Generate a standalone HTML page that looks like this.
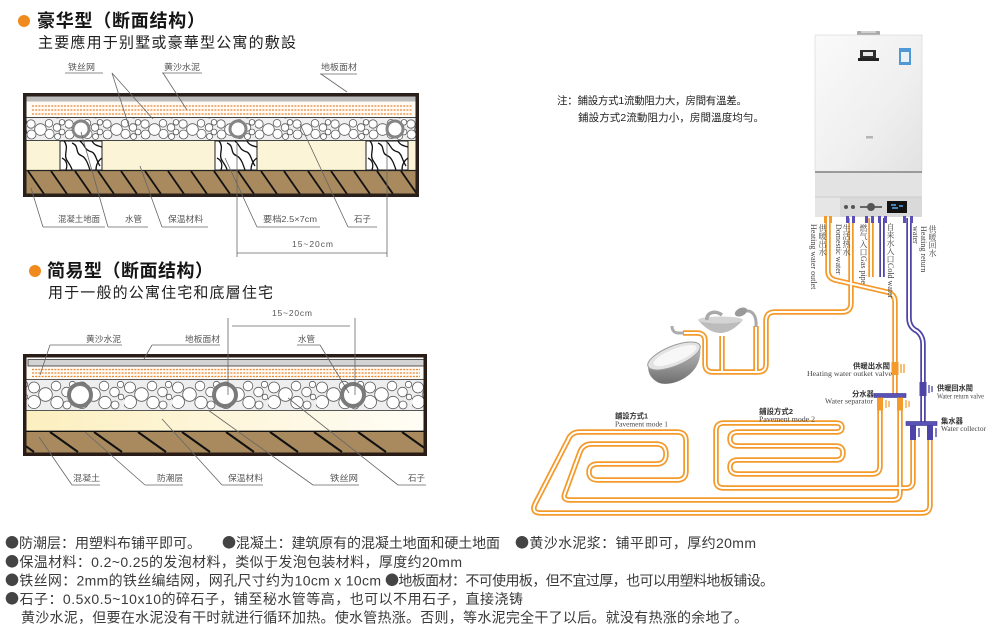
<!DOCTYPE html>
<html><head><meta charset="utf-8">
<style>
html,body{margin:0;padding:0;background:#fff;}
#wrap{position:relative;width:1000px;height:640px;overflow:hidden;background:#fff;}
svg{position:absolute;left:0;top:0;}
svg text{font-family:"Liberation Sans","Noto Sans CJK SC",sans-serif;dominant-baseline:central;}
.h{font-size:18px;font-weight:bold;fill:#151515;}
.sub{font-size:15px;fill:#1e1e1e;}
.lb{font-size:8.5px;fill:#555;}
.bt{font-size:14px;fill:#3a3a3a;}
.dot{font-family:"Noto Sans CJK SC",sans-serif;fill:#444;}
.nt{font-size:10.5px;fill:#1e1e1e;}
.cj{font-size:7.3px;fill:#333;font-weight:bold;}
.en{font-family:"Liberation Serif","Noto Serif CJK SC",serif !important;font-size:7.2px;fill:#444;}
.v{position:absolute;writing-mode:vertical-rl;font-family:"Liberation Serif","Noto Serif CJK SC",serif;font-size:8px;line-height:8px;color:#444;white-space:nowrap;}
</style></head><body><div id="wrap">
<svg width="1000" height="640" viewBox="0 0 1000 640" xmlns="http://www.w3.org/2000/svg">
<defs>
<pattern id="st1" x="27" y="118.5" width="38" height="21.5" patternUnits="userSpaceOnUse">
<g fill="#fff" stroke="#5a5a5a" stroke-width="0.8">
<circle cx="4" cy="5.5" r="4.2"/><circle cx="4.5" cy="16" r="4.5"/><circle cx="13.5" cy="11" r="5.8"/>
<circle cx="22" cy="4.8" r="3.8"/><circle cx="22.5" cy="15.5" r="4.6"/><circle cx="30" cy="9" r="3.8"/>
<circle cx="30.5" cy="18" r="3"/><circle cx="35" cy="3.8" r="2.8"/><circle cx="35" cy="13.5" r="2.9"/>
</g></pattern>
<pattern id="st2" x="28" y="380" width="48" height="31" patternUnits="userSpaceOnUse">
<g fill="#fff" stroke="#5a5a5a" stroke-width="0.8">
<circle cx="6" cy="7.5" r="5.5"/><circle cx="6" cy="22" r="6.5"/><circle cx="17.5" cy="14.5" r="6.8"/>
<circle cx="28" cy="6" r="4.8"/><circle cx="29" cy="22.5" r="6.2"/><circle cx="38.5" cy="12" r="4.8"/>
<circle cx="39" cy="25" r="4"/><circle cx="44.5" cy="4.5" r="3.2"/><circle cx="45" cy="17" r="2.8"/>
</g></pattern>
<linearGradient id="ins2" x1="0" x2="1" y1="0" y2="0"><stop offset="0" stop-color="#fcefbf"/><stop offset="1" stop-color="#fffdf6"/></linearGradient>
<linearGradient id="body" x1="0" x2="1" y1="0" y2="1"><stop offset="0" stop-color="#fafafa"/><stop offset="0.6" stop-color="#efefef"/><stop offset="1" stop-color="#e2e2e2"/></linearGradient>
<linearGradient id="tubG" x1="0" x2="0" y1="0" y2="1"><stop offset="0" stop-color="#bdbdbd"/><stop offset="1" stop-color="#6e6e6e"/></linearGradient>
<clipPath id="cb1"><rect x="26.5" y="96" width="391" height="99.5"/></clipPath>
<clipPath id="cb2"><rect x="26.5" y="357" width="399" height="96"/></clipPath>
<g id="bat">
<rect x="0" y="141" width="42" height="29" fill="#fff" stroke="#222" stroke-width="1"/>
<path d="M4 141 C10 148 2 155 8 162 C10 165 12 168 12 170 M12 143 C20 146 14 153 22 156 C26 158 28 164 30 170 M20 141 C26 146 24 150 32 152 C36 154 36 160 40 166 M32 141 C34 145 38 146 42 147 M2 158 C6 160 8 164 6 170 M36 170 C36 164 39 160 42 158" fill="none" stroke="#111" stroke-width="1.3"/>
</g>
<path id="pM1" d="M900 410 V493 Q900 500 893 500 H570 Q562 500 565 493 L580 452 Q583 444 592 444 H656 Q666 444 666 454 Q666 464 656 464 H598 Q589 464 589 472 Q589 480 598 480 H677 Q686 480 686 471 V441 Q686 432 677 432 H580 Q571 432 568 440 L535 504 Q531 513 541 513 H922 Q930 513 930 505 V440"/>
<path id="pM2" d="M880 410 V466 Q880 474 872 474 H738 Q730 474 730 467 Q730 460 738 460 H836 Q843 460 843 453 Q843 446 836 446 H738 Q730 446 730 439 Q730 432 738 432 H836 Q842 432 842 427.5 Q842 423 836 423 H724 Q716 423 716 431 V481 Q716 488 724 488 H906 Q913 488 913 481 V440"/>
<path id="pOut" d="M828 218 V271 Q828 278 835 280 L887 292 Q895 294 895 302 V395"/>
<path id="pDom" d="M851 218 V303 Q851 312 842 312 H775 Q766 312 766 321 V364 Q766 372 758 372 H713 Q705 372 705 364 V341 Q705 333 697 333 H683"/>
<path id="pSink" d="M722 372 V336"/>
<path id="pShw" d="M756 372 V326"/>
<path id="pGas" d="M871 218 V277"/>
<path id="pCold" d="M882 218 V277"/>
<path id="pRet" d="M909 218 V318 Q909 326 915 330 L917 331 Q923 336 923 344 V422"/>
</defs>

<!-- ============ SECTION 1 ============ -->
<circle cx="24" cy="21" r="6" fill="#f08a1c"/>
<text class="h" x="37" y="21" textLength="168" lengthAdjust="spacing">豪华型（断面结构）</text>
<text class="sub" x="38" y="43" textLength="258" lengthAdjust="spacing">主要應用于别墅或豪華型公寓的敷設</text>

<text class="lb" x="68" y="67" textLength="27" lengthAdjust="spacingAndGlyphs">铁丝网</text>
<text class="lb" x="164" y="67" textLength="36" lengthAdjust="spacingAndGlyphs">黄沙水泥</text>
<text class="lb" x="321" y="67" textLength="36" lengthAdjust="spacingAndGlyphs">地板面材</text>

<!-- box 1 -->
<rect x="26" y="96" width="392" height="100" fill="#fff"/>
<rect x="26" y="96.5" width="392" height="5" fill="#bcbcbc"/>
<rect x="26" y="101.5" width="392" height="15.5" fill="#fffaf3"/>
<g stroke="#e8893a" stroke-width="1.3" stroke-dasharray="2 1.2">
<line x1="32" y1="106" x2="412" y2="106"/><line x1="32" y1="110" x2="412" y2="110"/><line x1="32" y1="114" x2="412" y2="114"/>
</g>
<rect x="26" y="118" width="392" height="22" fill="#efefef"/>
<rect x="26" y="118" width="392" height="22" fill="url(#st1)"/>
<line x1="26" y1="117.5" x2="418" y2="117.5" stroke="#444" stroke-width="1"/>
<line x1="26" y1="140.5" x2="418" y2="140.5" stroke="#444" stroke-width="1"/>
<rect x="26" y="141" width="392" height="29" fill="#fcf4d6"/>
<use href="#bat" x="60"/><use href="#bat" x="215"/><use href="#bat" x="366"/>
<rect x="26" y="171" width="392" height="25" fill="#a88a5e"/>
<line x1="26" y1="170.5" x2="418" y2="170.5" stroke="#222" stroke-width="1.3"/>
<g clip-path="url(#cb1)" stroke="#111" stroke-width="1.8">
<line x1="28" y1="171" x2="44" y2="194"/><line x1="51" y1="171" x2="67" y2="194"/><line x1="75" y1="171" x2="91" y2="194"/>
<line x1="98" y1="171" x2="114" y2="194"/><line x1="121" y1="171" x2="137" y2="194"/><line x1="145" y1="171" x2="161" y2="194"/>
<line x1="168" y1="171" x2="184" y2="194"/><line x1="191" y1="171" x2="207" y2="194"/><line x1="214" y1="171" x2="230" y2="194"/>
<line x1="238" y1="171" x2="254" y2="194"/><line x1="261" y1="171" x2="277" y2="194"/><line x1="284" y1="171" x2="300" y2="194"/>
<line x1="308" y1="171" x2="324" y2="194"/><line x1="331" y1="171" x2="347" y2="194"/><line x1="354" y1="171" x2="370" y2="194"/>
<line x1="377" y1="171" x2="393" y2="194"/><line x1="401" y1="171" x2="417" y2="194"/>
</g>
<g fill="#fff" stroke="#858585" stroke-width="3">
<circle cx="81" cy="129" r="8"/><circle cx="238" cy="129" r="8"/><circle cx="395" cy="129" r="8"/>
</g>
<rect x="24.75" y="94.75" width="392.5" height="100.5" fill="none" stroke="#2a201b" stroke-width="3.5"/>

<!-- leaders box1 -->
<g stroke="#666" stroke-width="0.8" fill="none">
<path d="M65 73 H103"/><path d="M112 73 L130 130"/><path d="M112 73 L153 119"/>
<path d="M162 73 H202"/><path d="M163 73 L187 110"/>
<path d="M320 74 H357"/><path d="M321 74 L347 92"/>
<path d="M43 227 H105 M43 227 L31 188"/>
<path d="M108 227 H148 M108 227 L81 132"/>
<path d="M162 227 H208 M162 227 L140 166"/>
<path d="M257 227 H320 M257 227 L225 158"/>
<path d="M348 227 H377 M348 227 L300 124"/>
<path d="M237 141 V257 M387 141 V257 M237 253 H387"/>
</g>
<text class="lb" x="58" y="219" textLength="42" lengthAdjust="spacingAndGlyphs">混凝土地面</text>
<text class="lb" x="125" y="219" textLength="17" lengthAdjust="spacingAndGlyphs">水管</text>
<text class="lb" x="168" y="219" textLength="35" lengthAdjust="spacingAndGlyphs">保温材料</text>
<text class="lb" x="263" y="219" textLength="54" lengthAdjust="spacingAndGlyphs">要档2.5×7cm</text>
<text class="lb" x="354" y="219" textLength="17" lengthAdjust="spacingAndGlyphs">石子</text>
<text class="lb" x="292" y="244" textLength="41" lengthAdjust="spacing">15~20cm</text>

<!-- ============ SECTION 2 ============ -->
<circle cx="35" cy="271" r="6" fill="#f08a1c"/>
<text class="h" x="47" y="271" textLength="166" lengthAdjust="spacing">简易型（断面结构）</text>
<text class="sub" x="48" y="293" textLength="225" lengthAdjust="spacing">用于一般的公寓住宅和底層住宅</text>

<text class="lb" x="272" y="313" textLength="40" lengthAdjust="spacing">15~20cm</text>
<text class="lb" x="86" y="339" textLength="35" lengthAdjust="spacingAndGlyphs">黄沙水泥</text>
<text class="lb" x="185" y="339" textLength="35" lengthAdjust="spacingAndGlyphs">地板面材</text>
<text class="lb" x="298" y="339" textLength="17" lengthAdjust="spacingAndGlyphs">水管</text>

<!-- box 2 -->
<rect x="26" y="357" width="400" height="97" fill="#fff"/>
<rect x="28" y="359.5" width="396" height="6.5" fill="#d3d3d3" stroke="#333" stroke-width="0.8"/>
<rect x="26.5" y="366.5" width="399" height="13" fill="#fffaf3"/>
<g stroke="#e8893a" stroke-width="1.3" stroke-dasharray="2 1.2">
<line x1="32" y1="369.5" x2="420" y2="369.5"/><line x1="32" y1="373" x2="420" y2="373"/><line x1="32" y1="376.5" x2="420" y2="376.5"/>
</g>
<rect x="26.5" y="380" width="399" height="30" fill="#eeeeee"/>
<rect x="26.5" y="380" width="399" height="30" fill="url(#st2)"/>
<line x1="26" y1="379.5" x2="426" y2="379.5" stroke="#555" stroke-width="0.9"/>
<line x1="26" y1="410.5" x2="426" y2="410.5" stroke="#555" stroke-width="0.9"/>
<rect x="26.5" y="411" width="399" height="20" fill="url(#ins2)"/>
<rect x="26.5" y="431.5" width="399" height="22" fill="#a88a5e"/>
<line x1="26" y1="431.3" x2="426" y2="431.3" stroke="#111" stroke-width="1.4"/>
<g clip-path="url(#cb2)" stroke="#111" stroke-width="2">
<line x1="6" y1="432" x2="34" y2="452"/><line x1="50" y1="432" x2="78" y2="452"/><line x1="94" y1="432" x2="122" y2="452"/>
<line x1="138" y1="432" x2="166" y2="452"/><line x1="182" y1="432" x2="210" y2="452"/><line x1="226" y1="432" x2="254" y2="452"/>
<line x1="270" y1="432" x2="298" y2="452"/><line x1="314" y1="432" x2="342" y2="452"/><line x1="358" y1="432" x2="386" y2="452"/>
<line x1="402" y1="432" x2="430" y2="452"/>
</g>
<g fill="#fff" stroke="#7a7a7a" stroke-width="4">
<circle cx="80" cy="395" r="11"/><circle cx="225" cy="395" r="11"/><circle cx="353" cy="395" r="11"/>
</g>
<rect x="24.75" y="355.75" width="400.5" height="98.5" fill="none" stroke="#2a1d17" stroke-width="3.5"/>

<g stroke="#666" stroke-width="0.8" fill="none">
<path d="M228 318 V395 M355 318 V395 M232 326 H350"/>
<path d="M50 345 H122 M50 345 L40 375"/>
<path d="M152 345 H220 M152 345 L144 359"/>
<path d="M297 345 H320 M320 345 L349 393"/>
<path d="M72 485 H100 M72 485 L39 437"/>
<path d="M145 485 H183 M145 485 L85 432"/>
<path d="M222 485 H263 M222 485 L162 419"/>
<path d="M313 485 H359 M313 485 L208 410"/>
<path d="M398 485 H426 M398 485 L288 398"/>
</g>
<text class="lb" x="73" y="478" textLength="27" lengthAdjust="spacingAndGlyphs">混凝土</text>
<text class="lb" x="157" y="478" textLength="26" lengthAdjust="spacingAndGlyphs">防潮层</text>
<text class="lb" x="228" y="478" textLength="35" lengthAdjust="spacingAndGlyphs">保温材料</text>
<text class="lb" x="330" y="478" textLength="28" lengthAdjust="spacingAndGlyphs">铁丝网</text>
<text class="lb" x="408" y="478" textLength="17" lengthAdjust="spacingAndGlyphs">石子</text>

<!-- ============ BOTTOM TEXT ============ -->
<text class="bt" x="5" y="543" textLength="196" lengthAdjust="spacing"><tspan class="dot">●</tspan>防潮层：用塑料布铺平即可。</text>
<text class="bt" x="222" y="543" textLength="278" lengthAdjust="spacing"><tspan class="dot">●</tspan>混凝土：建筑原有的混凝土地面和硬土地面</text>
<text class="bt" x="515" y="543" textLength="241" lengthAdjust="spacing"><tspan class="dot">●</tspan>黄沙水泥浆：铺平即可，厚约20mm</text>
<text class="bt" x="5" y="562" textLength="457" lengthAdjust="spacing"><tspan class="dot">●</tspan>保温材料：0.2~0.25的发泡材料，类似于发泡包装材料，厚度约20mm</text>
<text class="bt" x="5" y="580.5" textLength="376" lengthAdjust="spacing"><tspan class="dot">●</tspan>铁丝网：2mm的铁丝编结网，网孔尺寸约为10cm x 10cm</text>
<text class="bt" x="385" y="580.5" textLength="389" lengthAdjust="spacing"><tspan class="dot">●</tspan>地板面材：不可使用板，但不宜过厚，也可以用塑料地板铺设。</text>
<text class="bt" x="5" y="599" textLength="518" lengthAdjust="spacing"><tspan class="dot">●</tspan>石子：0.5x0.5~10x10的碎石子，铺至秘水管等高，也可以不用石子，直接浇铸</text>
<text class="bt" x="21" y="617.5" textLength="727" lengthAdjust="spacing">黄沙水泥，但要在水泥没有干时就进行循环加热。使水管热涨。否则，等水泥完全干了以后。就没有热涨的余地了。</text>

<!-- ============ NOTE ============ -->
<text class="nt" x="557" y="101" textLength="190" lengthAdjust="spacing">注：鋪設方式1流動阻力大，房間有溫差。</text>
<text class="nt" x="578" y="118" textLength="186" lengthAdjust="spacing">鋪設方式2流動阻力小，房間溫度均勻。</text>

<!-- ============ BOILER ============ -->
<rect x="857" y="31" width="23" height="5" rx="1" fill="#a9a9a9"/>
<rect x="861" y="31" width="15" height="2" fill="#d0d0d0"/>
<rect x="815" y="35" width="107" height="137" fill="url(#body)" stroke="#d4d4d4" stroke-width="0.6"/>
<rect x="860" y="50" width="16" height="8" fill="#2e2e2e"/>
<rect x="863" y="52" width="10" height="4" fill="#e8e8e8"/>
<rect x="858" y="58" width="21" height="3" fill="#222"/>
<rect x="899" y="48" width="12" height="17" fill="#4f9ad6"/>
<rect x="901" y="52" width="8" height="10" fill="#eaf2f8"/>
<rect x="866" y="136" width="7" height="2.5" fill="#b5b5b5"/>
<rect x="815" y="171" width="107" height="2" fill="#9a9a9a"/>
<rect x="815" y="173" width="107" height="24" fill="#e3e3e3"/>
<rect x="815" y="197" width="107" height="20" fill="#d9d9d9"/>
<rect x="815" y="197" width="25" height="20" fill="#e6e6e6"/>
<line x1="815" y1="197" x2="922" y2="197" stroke="#c4c4c4" stroke-width="0.8"/>
<circle cx="846" cy="207" r="2" fill="#555"/><circle cx="853" cy="207" r="2" fill="#555"/>
<line x1="860" y1="207" x2="882" y2="207" stroke="#666" stroke-width="2"/>
<circle cx="871" cy="207" r="4" fill="#555"/>
<rect x="887" y="201" width="20" height="12" fill="#121212"/>
<path d="M891 205 h5 M892 208 h6 M899 206 h4" stroke="#56a8f0" stroke-width="1.4"/>

<!-- ============ PIPES ============ -->
<g fill="none" stroke="#f39a2b" stroke-width="5.5">
<use href="#pM1"/><use href="#pM2"/><use href="#pOut"/><use href="#pDom"/><use href="#pSink"/><use href="#pShw"/><use href="#pGas"/>
</g>
<g fill="none" stroke="#fff" stroke-width="2">
<use href="#pM1"/><use href="#pM2"/><use href="#pOut"/><use href="#pDom"/><use href="#pSink"/><use href="#pShw"/><use href="#pGas"/>
</g>
<g fill="none" stroke="#4e44a8" stroke-width="5.5"><use href="#pCold"/><use href="#pRet"/></g>
<g fill="none" stroke="#fff" stroke-width="2"><use href="#pCold"/><use href="#pRet"/></g>

<!-- stubs under boiler -->
<g fill="#f39a2b"><rect x="824" y="216" width="3" height="7"/><rect x="829" y="216" width="3" height="7"/></g>
<g fill="#5a50b8"><rect x="846" y="216" width="3" height="7"/><rect x="852" y="216" width="3" height="7"/>
<rect x="865" y="216" width="3" height="7"/><rect x="871" y="216" width="3" height="7"/>
<rect x="878" y="216" width="3" height="7"/><rect x="884" y="216" width="3" height="7"/>
<rect x="903" y="216" width="3" height="7"/><rect x="910" y="216" width="3" height="7"/></g>

<!-- valves / separator / collector -->
<rect x="891.5" y="362" width="7" height="13" fill="#f39a2b"/>
<path d="M901 364 v9 M904 364 v9" stroke="#f39a2b" stroke-width="1.3"/>
<rect x="919.5" y="382" width="7" height="14" fill="#4e44a8"/>
<path d="M929 385 v8 M932 386 v6" stroke="#4e44a8" stroke-width="1.3"/>
<rect x="874" y="393.5" width="32" height="4" fill="#5b52b5" stroke="#3a3190" stroke-width="0.6"/>
<rect x="877" y="397.5" width="6" height="13" fill="#f39a2b"/>
<rect x="897" y="397.5" width="6" height="13" fill="#f39a2b"/>
<path d="M886 400 v8 M889 401 v6 M906 400 v8 M909 401 v6" stroke="#f39a2b" stroke-width="1.2"/>
<rect x="906" y="421.5" width="31" height="4" fill="#5b52b5" stroke="#3a3190" stroke-width="0.6"/>
<rect x="910" y="425.5" width="6" height="14.5" fill="#4e44a8"/>
<rect x="927" y="425.5" width="6" height="14.5" fill="#4e44a8"/>
<path d="M919 428 v9 M936 428 v9" stroke="#4e44a8" stroke-width="1.4"/>

<!-- fixtures -->
<path d="M649 364 C646 372 652 381 661 383.5 C674 385.5 689 378 696 367 C700 360 701 353 700 347 Z" fill="url(#tubG)"/>
<ellipse cx="674" cy="356" rx="28" ry="10" transform="rotate(-22 674 356)" fill="#e3e3e3" stroke="#9a9a9a" stroke-width="1"/>
<ellipse cx="675" cy="355.5" rx="23" ry="6.5" transform="rotate(-22 675 355.5)" fill="#f7f7f7"/>
<path d="M684 333 H678 C674 333 672 330 672 326" fill="none" stroke="#acacac" stroke-width="3"/>
<path d="M698 320 Q720 346 743 320 Z" fill="#bcbcbc"/>
<ellipse cx="720.5" cy="320" rx="22.5" ry="3.5" fill="#d4d4d4"/>
<path d="M707 320 C706 312 716 310 722 315" fill="none" stroke="#a8a8a8" stroke-width="3.5"/>
<path d="M756 327 C757 315 752 310 745 311" fill="none" stroke="#a8a8a8" stroke-width="3"/>
<ellipse cx="741" cy="312" rx="6.5" ry="4" transform="rotate(-25 741 312)" fill="#9a9a9a"/>

<!-- pipe labels -->
<text class="cj" x="853" y="366" textLength="37" lengthAdjust="spacingAndGlyphs">供暖出水閥</text>
<text class="en" x="807" y="374" textLength="85" lengthAdjust="spacingAndGlyphs">Heating water outket valve</text>
<text class="cj" x="852" y="394" textLength="22" lengthAdjust="spacingAndGlyphs">分水器</text>
<text class="en" x="825" y="401.5" textLength="48" lengthAdjust="spacingAndGlyphs">Water separator</text>
<text class="cj" x="937" y="388" textLength="36" lengthAdjust="spacingAndGlyphs">供暖回水閥</text>
<text class="en" x="937" y="396.5" textLength="47" lengthAdjust="spacingAndGlyphs">Water return valve</text>
<text class="cj" x="941" y="421" textLength="22" lengthAdjust="spacingAndGlyphs">集水器</text>
<text class="en" x="941" y="429" textLength="45" lengthAdjust="spacingAndGlyphs">Water collector</text>
<text class="cj" x="615" y="416" textLength="33" lengthAdjust="spacingAndGlyphs">鋪設方式1</text>
<text class="en" x="615" y="424.5" textLength="53" lengthAdjust="spacingAndGlyphs">Pavement mode 1</text>
<text class="cj" x="759" y="411.5" textLength="34" lengthAdjust="spacingAndGlyphs">鋪設方式2</text>
<text class="en" x="759" y="419.5" textLength="56" lengthAdjust="spacingAndGlyphs">Pavement mode 2</text>
</svg>

<div class="v" style="left:809px;top:224px">Heating water outlet</div>
<div class="v" style="left:818px;top:224px">供暖出水</div>
<div class="v" style="left:834px;top:224px">Domestic water</div>
<div class="v" style="left:842px;top:224px">生活热水</div>
<div class="v" style="left:859px;top:224px">燃气入口Gas pipe</div>
<div class="v" style="left:886px;top:223px">自来水入口Cold water</div>
<div class="v" style="left:911px;top:226px">water</div>
<div class="v" style="left:919px;top:226px">Heating return</div>
<div class="v" style="left:928px;top:225px">供暖回水</div>
</div></body></html>
